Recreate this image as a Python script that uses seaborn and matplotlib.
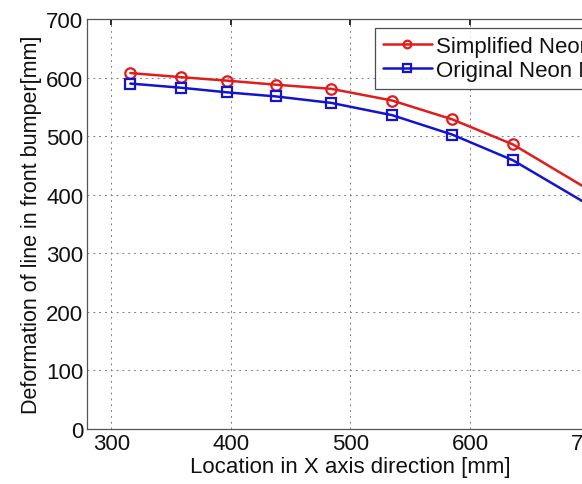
import matplotlib
matplotlib.use("Agg")
import matplotlib.pyplot as plt
import seaborn as sns
import pandas as pd

# Measured deformation along the front bumper line
x_simplified = [316, 358, 397, 438, 484, 535, 585, 636, 700]
y_simplified = [608, 601, 595, 588, 581, 561, 529, 486, 408]
x_original = [316, 358, 397, 438, 484, 535, 585, 636, 700]
y_original = [590, 583, 575, 568, 557, 536, 503, 459, 382]
series_names = ["Simplified Neon Model", "Original Neon Model"]
x_ticks = [300, 400, 500, 600, 700]
y_ticks = [0, 100, 200, 300, 400, 500, 600, 700]

df = pd.concat([
    pd.DataFrame({"x": x_simplified, "y": y_simplified, "model": series_names[0]}),
    pd.DataFrame({"x": x_original, "y": y_original, "model": series_names[1]}),
])

sns.set_theme(style="white")
plt.rcParams["font.family"] = ["Liberation Sans", "DejaVu Sans"]

fig = plt.figure(figsize=(5.82, 4.85), dpi=100)
ax = fig.add_axes([0.150, 0.1134, 0.904, 0.845])

palette = {series_names[0]: "#e01c1c", series_names[1]: "#1414cc"}
markers = {series_names[0]: "o", series_names[1]: "s"}
sns.lineplot(data=df, x="x", y="y", hue="model", style="model",
             palette=palette, markers=markers, dashes=False,
             markersize=7.5, markerfacecolor="none", markeredgewidth=1.6,
             linewidth=1.8, ax=ax, sort=False)
for line in ax.lines:
    line.set_markeredgecolor(line.get_color())
    line.set_markerfacecolor("none")

ax.set_xlim(280, 720)
ax.set_ylim(0, 700)
ax.set_xticks(x_ticks)
ax.set_yticks(y_ticks)
ax.grid(True, linestyle=(0, (2, 4)), color="#808080", linewidth=0.7)
ax.tick_params(axis="both", direction="in", length=4, labelsize=16,
               colors="#111111", top=True, right=True, pad=3)
for s in ax.spines.values():
    s.set_color("#555555")
    s.set_linewidth(0.9)

ax.set_xlabel("Location in X axis direction [mm]", fontsize=16, labelpad=1,
              color="#111111")
ax.set_ylabel("Deformation of line in front bumper[mm]", fontsize=15.5,
              labelpad=3, color="#111111")

leg = ax.legend(loc="upper left", bbox_to_anchor=(0.547, 0.979), fontsize=16,
                frameon=True, fancybox=False, edgecolor="#222222",
                borderpad=0.35, handlelength=2.2, handletextpad=0.2,
                labelspacing=0.15, borderaxespad=0)
leg.get_frame().set_linewidth(0.9)
for t in leg.get_texts():
    t.set_color("#111111")
for h in leg.legend_handles:
    h.set_markerfacecolor("none")
    h.set_markersize(5.5)

fig.savefig("out.png", dpi=100)
